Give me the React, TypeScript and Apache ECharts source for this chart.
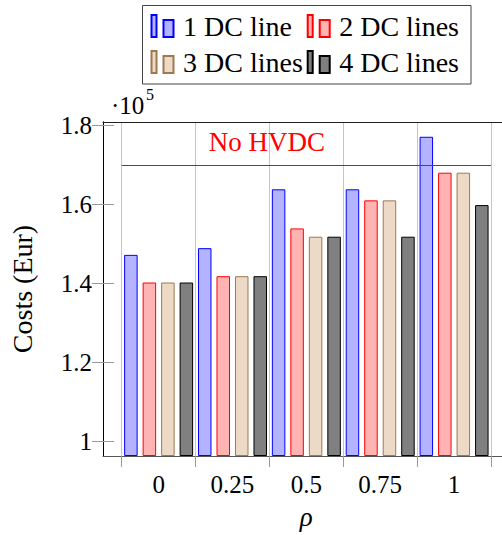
import React, { useEffect, useRef } from "react";
import * as echarts from "echarts";

const categories = ["0", "0.25", "0.5", "0.75", "1"];
const oneLine = [1.472, 1.489, 1.638, 1.638, 1.771];
const twoLines = [1.402, 1.418, 1.539, 1.61, 1.68];
const threeLines = [1.402, 1.418, 1.518, 1.61, 1.68];
const fourLines = [1.402, 1.418, 1.518, 1.518, 1.598];
const yTicks = [1, 1.2, 1.4, 1.6, 1.8];
const noHvdcValue = 1.7;
const noHvdcLabel = "No HVDC";
const seriesNames = ["1 DC line", "2 DC lines", "3 DC lines", "4 DC lines"];

const Y_MIN = 0.9628;
const Y_MAX = 1.8084;
const FONT = "'Liberation Serif', 'Times New Roman', serif";
const ICON = "path://M0,0h5v22h-5zM12,5h10v17h-10z";

export default function App() {
  const ref = useRef<HTMLDivElement>(null);
  useEffect(() => {
    if (!ref.current) return;
    const chart = echarts.init(ref.current, undefined, { renderer: "svg" });
    const styles = [
      { color: "#b3b3ff", borderColor: "#0000ff" },
      { color: "#ffb3b3", borderColor: "#ff0000" },
      { color: "#ecd9c6", borderColor: "#a07850" },
      { color: "#808080", borderColor: "#000000" },
    ];
    const datasets = [oneLine, twoLines, threeLines, fourLines];
    const series: any[] = datasets.map((d, i) => ({
      name: seriesNames[i],
      type: "bar",
      xAxisIndex: 0,
      yAxisIndex: 0,
      data: d,
      barWidth: 13.5,
      barGap: "37%",
      clip: true,
      itemStyle: { ...styles[i], borderWidth: 1 },
      z: 2,
    }));
    series[3].markLine = {
      silent: true,
      symbol: "none",
      animation: false,
      lineStyle: { color: "#ff0000", width: 1, type: "solid" },
      label: {
        show: true,
        position: "insideStartTop",
        formatter: noHvdcLabel,
        color: "#ff0000",
        fontFamily: FONT,
        fontSize: 27,
        distance: [87, 9],
      },
      data: [{ yAxis: noHvdcValue }],
    };

    const legendCommon = {
      orient: "vertical",
      top: 12,
      padding: 0,
      itemWidth: 23,
      itemHeight: 22,
      itemGap: 8,
      icon: ICON,
      textStyle: {
        fontFamily: FONT,
        fontSize: 28,
        color: "#000",
        lineHeight: 28,
        padding: [0, 0, 0, 4],
      },
      selectedMode: false,
    };

    chart.setOption({
      animation: false,
      grid: [
        { left: 121.7, width: 369.3, top: 122, height: 334, outerBoundsMode: "none", containLabel: false },
        { left: 103, width: 407, top: 122, height: 334, outerBoundsMode: "none", containLabel: false },
      ],
      legend: [
        { ...legendCommon, left: 150.5, data: [seriesNames[0], seriesNames[2]] },
        { ...legendCommon, left: 306.7, data: [seriesNames[1], seriesNames[3]] },
      ],
      xAxis: [
        {
          type: "category",
          gridIndex: 0,
          data: categories,
          axisLine: { show: false },
          axisTick: { show: true, inside: false, length: 11, lineStyle: { color: "#999" } },
          axisLabel: { fontFamily: FONT, fontSize: 25, color: "#000", margin: 16 },
          splitLine: { show: true, lineStyle: { color: "#c6c6c6", width: 1 } },
          name: "ρ",
          nameLocation: "middle",
          nameGap: 47,
          nameTextStyle: { fontFamily: FONT, fontSize: 27, fontStyle: "italic", color: "#000" },
        },
        {
          type: "value",
          gridIndex: 1,
          min: 0,
          max: 1,
          position: "bottom",
          axisLine: { show: true, lineStyle: { color: "#555", width: 1 } },
          axisTick: { show: false },
          axisLabel: { show: false },
          splitLine: { show: false },
        },
        {
          type: "value",
          gridIndex: 1,
          min: 0,
          max: 1,
          position: "top",
          axisLine: { show: true, lineStyle: { color: "#222", width: 1 } },
          axisTick: { show: false },
          axisLabel: { show: false },
          splitLine: { show: false },
        },
      ],
      yAxis: [
        {
          type: "value",
          gridIndex: 0,
          min: Y_MIN,
          max: Y_MAX,
          startValue: Y_MIN,
          show: false,
          splitLine: { show: false },
        },
        {
          type: "value",
          gridIndex: 1,
          min: Y_MIN,
          max: Y_MAX,
          position: "left",
          axisLine: { show: true, lineStyle: { color: "#000", width: 1 } },
          axisTick: {
            show: true,
            inside: true,
            length: 11,
            customValues: yTicks,
            lineStyle: { color: "#999" },
          },
          axisLabel: {
            customValues: yTicks,
            formatter: (v: number) => String(Math.round(v * 10) / 10),
            fontFamily: FONT,
            fontSize: 25,
            color: "#000",
            margin: 11,
          },
          splitLine: { show: false },
          name: "Costs (Eur)",
          nameLocation: "middle",
          nameGap: 67,
          nameTextStyle: { fontFamily: FONT, fontSize: 28, color: "#000" },
        },
        {
          type: "value",
          gridIndex: 1,
          min: Y_MIN,
          max: Y_MAX,
          position: "right",
          axisLine: { show: true, lineStyle: { color: "#000", width: 1 } },
          axisTick: {
            show: true,
            inside: true,
            length: 11,
            customValues: yTicks,
            lineStyle: { color: "#999" },
          },
          axisLabel: { show: false },
          splitLine: { show: false },
        },
      ],
      series,
      graphic: [
        {
          type: "rect",
          shape: { x: 142.5, y: 5.5, width: 328.5, height: 78.5 },
          style: { fill: "none", stroke: "#444", lineWidth: 1 },
          silent: true,
        },
        {
          type: "text",
          x: 111,
          y: 105,
          style: { text: "·10", font: `25px ${FONT}`, fill: "#000", verticalAlign: "middle" },
          silent: true,
        },
        {
          type: "text",
          x: 146,
          y: 94,
          style: { text: "5", font: `16px ${FONT}`, fill: "#000", verticalAlign: "middle" },
          silent: true,
        },
      ],
    });
    return () => chart.dispose();
  }, []);
  return (
    <div
      ref={ref}
      style={{ position: "fixed", left: 0, top: 0, width: 502, height: 535, background: "#fff" }}
    />
  );
}
